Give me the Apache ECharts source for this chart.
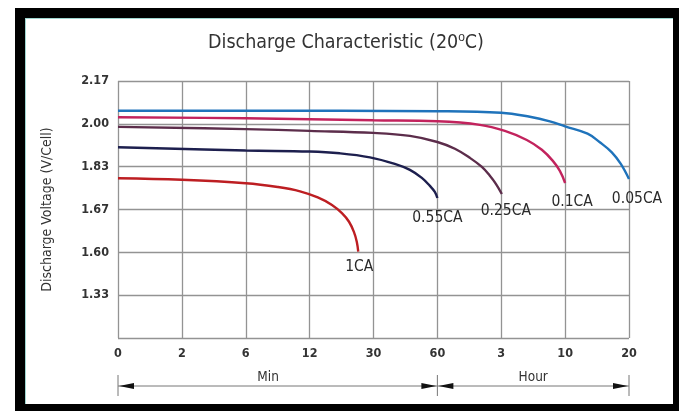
<!DOCTYPE html>
<html>
<head>
<meta charset="utf-8">
<title>Discharge Characteristic</title>
<script src="https://cdn.jsdelivr.net/npm/echarts@6/dist/echarts.min.js"></script>
<style>
  html, body { margin: 0; padding: 0; background: #ffffff; }
  #frame { position: absolute; left: 15px; top: 8px; width: 664px; height: 403px; background: #000; }
  #panel { position: absolute; left: 25px; top: 18px; width: 648px; height: 386px; background: #fff;
           box-sizing: border-box; border-top: 1px solid #9fd6cf; border-left: 1px solid #9fd6cf; }
  #chart { position: absolute; left: 0; top: 0; width: 679px; height: 411px; }
</style>
</head>
<body>
<div id="frame"></div>
<div id="panel"></div>
<div id="chart"></div>
<script>
// Time axis: tick positions in minutes, and the labels printed under them
const xTickMinutes = [0, 2, 6, 12, 30, 60, 180, 600, 1200];
const xTickLabels = ['0', '2', '6', '12', '30', '60', '3', '10', '20'];

// Voltage axis: gridline voltages from the second line up (bottom line is unlabeled)
const yTickVolts = [1.33, 1.60, 1.67, 1.83, 2.00, 2.17];
const yTickLabels = ['1.33', '1.60', '1.67', '1.83', '2.00', '2.17'];

// Discharge curves: [minutes, volts per cell]
const rate1CA = [[0, 1.787], [2, 1.781], [6, 1.768], [9, 1.754], [11.1, 1.738], [14.3, 1.715], [18.3, 1.687],
                 [21.1, 1.664], [23.1, 1.650], [24.5, 1.633], [25.3, 1.617], [25.7, 1.601]];
const rate055CA = [[0, 1.907], [6, 1.894], [12, 1.890], [20.5, 1.883], [29.0, 1.867], [40.0, 1.841],
                   [47.1, 1.818], [52.7, 1.788], [56.5, 1.758], [58.8, 1.736], [60, 1.713]];
const rate025CA = [[0, 1.988], [6, 1.979], [12, 1.972], [30, 1.964], [47.1, 1.952], [60, 1.928], [92.9, 1.901],
                   [121, 1.865], [143.6, 1.829], [158.6, 1.796], [169.9, 1.766], [183.8, 1.728]];
const rate01CA = [[0, 2.026], [6, 2.022], [30, 2.014], [60, 2.010], [139.8, 1.996], [203.5, 1.972], [348, 1.936],
                  [446.8, 1.897], [519.3, 1.853], [565.3, 1.814], [600, 1.769]];
const rate005CA = [[0, 2.052], [6, 2.052], [60, 2.050], [180, 2.044], [368, 2.028], [499.5, 2.010], [600, 1.990],
                   [810.6, 1.961], [925.8, 1.927], [1038.6, 1.887], [1123, 1.841], [1200, 1.784]];

const seriesNames = ['1CA', '0.55CA', '0.25CA', '0.1CA', '0.05CA'];
const seriesData = [rate1CA, rate055CA, rate025CA, rate01CA, rate005CA];

// The printed scales are uneven, so both axes run in "grid steps" and
// values are placed by linear interpolation between neighbouring ticks.
function interp(v, ticks, base) {
  for (let i = 0; i < ticks.length - 1; i++) {
    const a = ticks[i], b = ticks[i + 1];
    if (v <= b || i === ticks.length - 2) {
      return base + i + (v - a) / (b - a);
    }
  }
  return base;
}
const timeToStep = t => interp(t, xTickMinutes, 0);
const voltToStep = v => interp(v, yTickVolts, 1);

const colors = ['#bd1e22', '#1d1f4e', '#5c2d4b', '#c2235d', '#1f73bb'];
const labelOffsets = [[1, 5], [0, 10], [4, 7], [7, 9], [8, 10]];

const chart = echarts.init(document.getElementById('chart'), null, { renderer: 'canvas' });

const series = seriesNames.map((name, k) => {
  const pts = seriesData[k].map(p => [timeToStep(p[0]), voltToStep(p[1])]);
  const last = pts.length - 1;
  return {
    name: name,
    type: 'line',
    smooth: 0.4,
    symbol: 'circle',
    symbolSize: 0,
    showSymbol: true,
    showAllSymbol: true,
    lineStyle: { color: colors[k], width: 2.4 },
    itemStyle: { color: colors[k] },
    data: pts.map((p, i) => i === last ? {
      value: p,
      label: {
        show: true, position: 'bottom', distance: 2, offset: labelOffsets[k],
        formatter: name, color: '#2a2a2a', fontSize: 15.5,
        fontFamily: 'DejaVu Sans Condensed'
      }
    } : p)
  };
});

chart.setOption({
  animation: false,
  backgroundColor: 'transparent',
  grid: { left: 118, right: 50, top: 81, bottom: 73, containLabel: false },
  xAxis: {
    type: 'value', min: 0, max: 8, interval: 1,
    axisLine: { show: false }, axisTick: { show: false },
    splitLine: { show: true, lineStyle: { color: '#939393', width: 1.3 } },
    axisLabel: {
      margin: 9, color: '#333', fontSize: 12.5, fontWeight: 'bold',
      fontFamily: 'DejaVu Sans Condensed',
      formatter: v => xTickLabels[Math.round(v)] ?? ''
    }
  },
  yAxis: {
    type: 'value', min: 0, max: 6, interval: 1,
    name: 'Discharge Voltage (V/Cell)', nameLocation: 'middle', nameRotate: 90, nameGap: 64,
    nameTextStyle: { color: '#333', fontSize: 14, fontFamily: 'DejaVu Sans Condensed' },
    axisLine: { show: false }, axisTick: { show: false },
    splitLine: { show: true, lineStyle: { color: '#939393', width: 1.3 } },
    axisLabel: {
      margin: 9, color: '#333', fontSize: 12.5, fontWeight: 'bold',
      fontFamily: 'DejaVu Sans Condensed',
      formatter: v => (v >= 1 ? yTickLabels[Math.round(v) - 1] : '')
    }
  },
  series: series
});

// Title and the Min / Hour span arrows under the time axis
const px = u => chart.convertToPixel({ gridIndex: 0 }, [u, 0])[0];
const x0 = px(0), x5 = px(5), x8 = px(8);
const ay = 386;
const arrowColor = '#111';
function arrowHead(tipX, dir) {
  return {
    type: 'polygon', silent: true,
    shape: { points: [[tipX, ay], [tipX + dir * 15, ay - 3], [tipX + dir * 15, ay + 3]] },
    style: { fill: arrowColor }
  };
}
const g = [
  {
    type: 'text', silent: true,
    style: {
      x: 346, y: 43, align: 'center', verticalAlign: 'middle',
      text: 'Discharge Characteristic (20{sup|o}C)',
      fontSize: 19.5, fontFamily: 'DejaVu Sans Condensed', fill: '#333',
      rich: { sup: { fontSize: 12, verticalAlign: 'top', padding: [0, 0, 10, 0], fill: '#333' } }
    }
  },
  { type: 'line', silent: true, shape: { x1: x0, y1: ay, x2: x8, y2: ay }, style: { stroke: '#777', lineWidth: 1 } },
  { type: 'line', silent: true, shape: { x1: x0, y1: 375, x2: x0, y2: 396 }, style: { stroke: '#777', lineWidth: 1 } },
  { type: 'line', silent: true, shape: { x1: x5, y1: 375, x2: x5, y2: 396 }, style: { stroke: '#777', lineWidth: 1 } },
  { type: 'line', silent: true, shape: { x1: x8, y1: 375, x2: x8, y2: 396 }, style: { stroke: '#777', lineWidth: 1 } },
  arrowHead(x0 + 1, 1),
  arrowHead(x5 - 1, -1),
  arrowHead(x5 + 1, 1),
  arrowHead(x8 - 1, -1),
  {
    type: 'text', silent: true,
    style: { x: px(2.35), y: 377, align: 'center', verticalAlign: 'middle', text: 'Min',
             fontSize: 13.5, fontFamily: 'DejaVu Sans Condensed', fill: '#333' }
  },
  {
    type: 'text', silent: true,
    style: { x: px(6.5), y: 377, align: 'center', verticalAlign: 'middle', text: 'Hour',
             fontSize: 13.5, fontFamily: 'DejaVu Sans Condensed', fill: '#333' }
  }
];
chart.setOption({ graphic: g });
</script>
</body>
</html>
